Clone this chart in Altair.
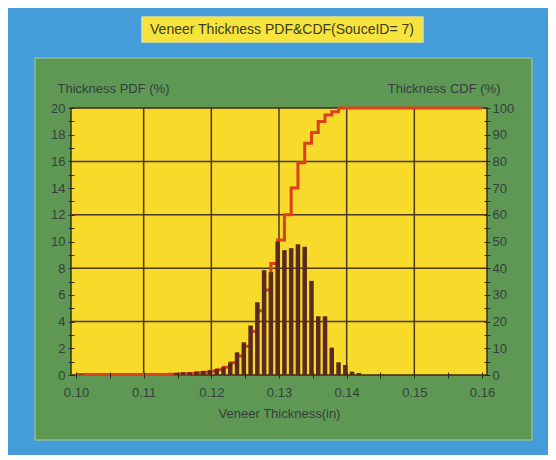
import altair as alt
import pandas as pd

# ---------------- data ----------------
bin_centers = [0.1008, 0.1148, 0.1158, 0.1168, 0.1178, 0.1188, 0.1198, 0.1208, 0.1218,
               0.1228, 0.1238, 0.1248, 0.1258, 0.1268, 0.1278, 0.1288, 0.1298, 0.1308,
               0.1318, 0.1328, 0.1338, 0.1348, 0.1358, 0.1368, 0.1378, 0.1388, 0.1398,
               0.1408, 0.1418]
pdf_pct = [0.05, 0.15, 0.2, 0.2, 0.25, 0.3, 0.35, 0.45, 0.6,
           0.93, 1.7, 2.45, 3.7, 5.45, 7.85, 7.7, 10.0, 9.35,
           9.5, 9.8, 9.6, 7.05, 4.4, 4.4, 2.05, 0.95, 0.75,
           0.25, 0.15]

cdf_x = [0.1000, 0.1138, 0.1148, 0.1158, 0.1168, 0.1178, 0.1188, 0.1198, 0.1208, 0.1218,
         0.1228, 0.1238, 0.1248, 0.1258, 0.1268, 0.1278, 0.1288, 0.1298, 0.1308, 0.1318,
         0.1328, 0.1338, 0.1348, 0.1358, 0.1368, 0.1378, 0.1388, 0.1600]
cdf_pct = [0.2, 0.3, 0.35, 0.45, 0.6, 0.8, 1.0, 1.4, 2.0, 2.9,
           4.6, 7.1, 10.8, 16.3, 24.1, 31.8, 41.8, 50.6, 60.0, 70.0,
           79.5, 86.8, 90.8, 94.9, 97.4, 98.6, 100.0, 100.0]

x_grid = [0.11, 0.12, 0.13, 0.14, 0.15]
pdf_grid = [4, 8, 12, 16]
x_ticks = [0.100, 0.105, 0.110, 0.115, 0.120, 0.125, 0.130, 0.135, 0.140, 0.145, 0.150, 0.155, 0.160]
pdf_ticks = list(range(0, 21))
cdf_ticks = list(range(0, 101, 5))

chart_title = "Veneer Thickness PDF&CDF(SouceID= 7)"
x_title = "Veneer Thickness(in)"
pdf_title = "Thickness PDF (%)"
cdf_title = "Thickness CDF (%)"

# ---------------- styles ----------------
FONT = "Liberation Sans"
TXT = "#33403c"
BLUE = "#449cd8"
GREEN = "#5f9854"
YELLOW = "#f7da2a"
BOX = "#f6e43c"
BAR = "#5a2a20"
RED = "#dc401c"
GRID = "#4a3816"
TICK = "#2e2a1c"

bars_df = pd.DataFrame({"x": bin_centers, "pdf": pdf_pct})
cdf_df = pd.DataFrame({"x": cdf_x, "cdf": cdf_pct})
vgrid_df = pd.DataFrame({"x": x_grid})
hgrid_df = pd.DataFrame({"y": pdf_grid})
one = pd.DataFrame({"k": [0]})

xscale = alt.Scale(domain=[0.10, 0.16], nice=False, zero=False)
pdf_scale = alt.Scale(domain=[0, 20], nice=False)
cdf_scale = alt.Scale(domain=[0, 100], nice=False)

common = dict(domain=False, grid=False, tickSize=6, offset=-3, tickColor=TICK, tickWidth=1,
              labelFont=FONT, labelFontSize=13, labelColor=TXT, labelOverlap=False,
              labelFlush=False, titleFont=FONT, titleFontSize=13, titleFontWeight="normal",
              titleColor=TXT, zindex=1)

xaxis = alt.Axis(values=x_ticks,
                 labelExpr="round(datum.value*1000) % 10 == 0 ? format(datum.value, '.2f') : ''",
                 title=x_title, labelPadding=8, titleY=41, titleBaseline="middle", **common)
pdf_axis = alt.Axis(values=pdf_ticks, orient="left",
                    labelExpr="datum.value % 2 == 0 ? datum.label : ''",
                    title=pdf_title, labelPadding=3, titleAngle=0, titleX=-17, titleY=-20,
                    titleAlign="left", titleBaseline="middle", **common)
cdf_axis = alt.Axis(values=cdf_ticks, orient="right",
                    labelExpr="datum.value % 10 == 0 ? datum.label : ''",
                    title=cdf_title, labelPadding=2, titleAngle=0, titleX=16, titleY=-20,
                    titleAlign="right", titleBaseline="middle", **common)

X = alt.X("x:Q", scale=xscale, axis=xaxis)

blue = alt.Chart(one).mark_rect(color=BLUE).encode(
    x=alt.value(-63), x2=alt.value(477), y=alt.value(-100), y2=alt.value(347))
green = alt.Chart(one).mark_rect(color=GREEN, stroke="#86bf98", strokeWidth=1.5).encode(
    x=alt.value(-36), x2=alt.value(461), y=alt.value(-50), y2=alt.value(332))
tbox = alt.Chart(one).mark_rect(color=BOX, stroke="#e6e08a", strokeWidth=1.5).encode(
    x=alt.value(71), x2=alt.value(352), y=alt.value(-91), y2=alt.value(-66))
ttext = alt.Chart(one).mark_text(text=chart_title, font=FONT, fontSize=14, color="#3a3a24",
                                 align="center", baseline="middle").encode(
    x=alt.value(211), y=alt.value(-78))
plotbg = alt.Chart(one).mark_rect(color=YELLOW, stroke="#3a2e18", strokeWidth=1.5).encode(
    x=alt.value(0), x2=alt.value("width"), y=alt.value(0), y2=alt.value("height"))

vgrid = alt.Chart(vgrid_df).mark_rule(color=GRID, strokeWidth=1.5).encode(x=X)
hgrid = alt.Chart(hgrid_df).mark_rule(color=GRID, strokeWidth=1.5).encode(
    y=alt.Y("y:Q", scale=pdf_scale, axis=None))
line = alt.Chart(cdf_df).mark_line(interpolate="step-after", color=RED, strokeWidth=3).encode(
    x=X, y=alt.Y("cdf:Q", scale=cdf_scale, axis=cdf_axis))
bars = alt.Chart(bars_df).mark_bar(size=4.5, color=BAR).encode(
    x=X, y=alt.Y("pdf:Q", scale=pdf_scale, axis=pdf_axis))

chart = alt.layer(blue, green, tbox, ttext, plotbg, vgrid, hgrid, line, bars).resolve_scale(
    y="independent"
).properties(width=416, height=267, padding=0, background=BLUE).configure_view(strokeWidth=0)

chart.save("out.html", embed_options={"renderer": "svg", "actions": False})
